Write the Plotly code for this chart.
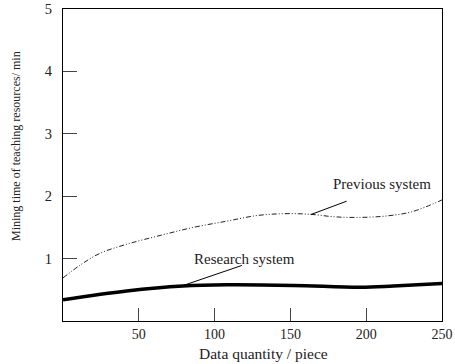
import plotly.graph_objects as go

x_prev = [0, 11, 24, 42, 64, 86, 108, 128, 146, 163, 179, 194, 212, 230, 250]
y_prev = [0.69, 0.89, 1.08, 1.23, 1.37, 1.50, 1.60, 1.69, 1.72, 1.71, 1.67, 1.66, 1.68, 1.75, 1.94]

x_res = [0, 42, 79, 108, 152, 196, 218, 250]
y_res = [0.34, 0.48, 0.56, 0.58, 0.57, 0.54, 0.56, 0.60]

x_ticks = [50, 100, 150, 200, 250]
y_ticks = [1, 2, 3, 4, 5]

FONT = "Liberation Serif"
TXT = "#222"

fig = go.Figure()
fig.add_trace(go.Scatter(x=x_prev, y=y_prev, mode="lines", line_shape="spline",
                         line=dict(color="#222", width=1, dash="5px,2px,1px,2px,1px,2px"),
                         showlegend=False))
fig.add_trace(go.Scatter(x=x_res, y=y_res, mode="lines", line_shape="spline",
                         line=dict(color="black", width=3.5), showlegend=False))

fig.update_xaxes(range=[0, 250], tickvals=x_ticks, ticks="inside", ticklen=13, tickcolor="#444",
                 showgrid=False, zeroline=False, showline=True, linecolor="black", linewidth=1,
                 mirror=True, automargin=False, tickfont=dict(family=FONT, size=14, color=TXT))
fig.update_yaxes(range=[0, 5], tickvals=y_ticks, ticks="inside", ticklen=14, tickcolor="#444",
                 showgrid=False, zeroline=False, showline=True, linecolor="black", linewidth=1,
                 mirror=True, automargin=False, ticklabelstandoff=7,
                 tickfont=dict(family=FONT, size=14.5, color=TXT))

anns = [
    dict(x=0.528, y=-0.104, xref="paper", yref="paper", text="Data quantity / piece", showarrow=False,
         font=dict(family=FONT, size=15.5, color=TXT), xanchor="center", yanchor="middle"),
    dict(x=-0.124, y=0.561, xref="paper", yref="paper", text="Mining time of teaching resources/ min",
         showarrow=False, textangle=-90, xanchor="center", yanchor="middle",
         font=dict(family=FONT, size=12, color=TXT)),
    dict(x=210.6, y=2.19, text="Previous system", showarrow=False,
         font=dict(family=FONT, size=15, color=TXT)),
    dict(x=120, y=0.99, text="Research system", showarrow=False,
         font=dict(family=FONT, size=15, color=TXT)),
]
fig.update_layout(annotations=anns)
fig.add_shape(type="line", x0=163.4, y0=1.705, x1=187.1, y1=1.92, line=dict(color="black", width=1))
fig.add_shape(type="line", x0=79.4, y0=0.57, x1=118, y1=0.89, line=dict(color="black", width=1))

fig.update_layout(width=455, height=364, autosize=False, margin=dict(l=63, r=13, t=9, b=43),
                  plot_bgcolor="white", paper_bgcolor="white",
                  font=dict(family=FONT, size=12, color=TXT))
fig.write_html("out.html", config={"displayModeBar": False, "responsive": False},
               post_script="document.body.style.margin='0';document.body.style.overflow='hidden';")
